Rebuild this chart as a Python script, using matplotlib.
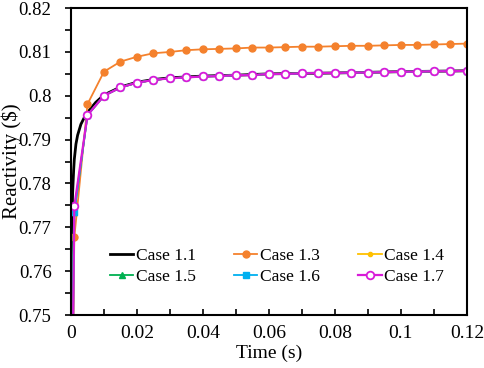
import matplotlib.pyplot as plt
import numpy as np
from matplotlib.ticker import MultipleLocator

plt.rcParams['font.family'] = ['Liberation Serif', 'DejaVu Serif']

# time grid for the marked cases (s)
t_mark = [0.0, 0.001, 0.005, 0.01, 0.015, 0.02, 0.025, 0.03, 0.035, 0.04, 0.045,
          0.05, 0.055, 0.06, 0.065, 0.07, 0.075, 0.08, 0.085, 0.09, 0.095,
          0.1, 0.105, 0.11, 0.115, 0.12]

case_13 = [0.70, 0.7677, 0.7981, 0.8055, 0.8078, 0.8089, 0.8097, 0.8100, 0.8104,
           0.8106, 0.8107, 0.8108, 0.8110, 0.8110, 0.8111, 0.8112, 0.8112, 0.8113,
           0.8114, 0.8114, 0.8115, 0.8116, 0.8116, 0.8117, 0.8118, 0.8119]
case_14 = [0.70, 0.7740, 0.7956, 0.8000, 0.8019, 0.8030, 0.8036, 0.8040, 0.8042,
           0.8044, 0.8045, 0.8047, 0.8047, 0.8050, 0.8050, 0.8051, 0.8052, 0.8052,
           0.8053, 0.8053, 0.8054, 0.8055, 0.8055, 0.8056, 0.8056, 0.8057]
case_15 = [0.75, 0.7735, 0.7956, 0.8000, 0.8019, 0.8030, 0.8036, 0.8040, 0.8042,
           0.8044, 0.8045, 0.8047, 0.8047, 0.8050, 0.8050, 0.8051, 0.8052, 0.8052,
           0.8053, 0.8053, 0.8054, 0.8055, 0.8055, 0.8056, 0.8056, 0.8057]
case_16 = [0.70, 0.7734, 0.7956, 0.8000, 0.8019, 0.8030, 0.8036, 0.8040, 0.8042,
           0.8044, 0.8045, 0.8047, 0.8047, 0.8050, 0.8050, 0.8051, 0.8052, 0.8052,
           0.8053, 0.8053, 0.8054, 0.8055, 0.8055, 0.8056, 0.8056, 0.8057]
case_17 = [0.70, 0.7748, 0.7956, 0.8000, 0.8019, 0.8030, 0.8036, 0.8040, 0.8042,
           0.8044, 0.8045, 0.8047, 0.8047, 0.8050, 0.8050, 0.8051, 0.8052, 0.8052,
           0.8053, 0.8053, 0.8054, 0.8055, 0.8055, 0.8056, 0.8056, 0.8057]

# Case 1.1 is a finer, unmarked curve
t_11 = [0.0, 0.0003, 0.0005, 0.0008, 0.001, 0.0015, 0.002, 0.003, 0.004, 0.005,
        0.0075, 0.01, 0.015, 0.02, 0.025, 0.03, 0.04, 0.05, 0.06, 0.08, 0.1, 0.12]
case_11 = [0.70, 0.7720, 0.7780, 0.7830, 0.7855, 0.7890, 0.7910, 0.7935, 0.7950,
           0.7962, 0.7985, 0.8002, 0.8020, 0.8031, 0.8037, 0.8041, 0.8045, 0.8047,
           0.8050, 0.8052, 0.8055, 0.8057]

fig = plt.figure(figsize=(4.84, 3.68), dpi=100)
ax = fig.add_axes([0.1467, 0.144, 0.818, 0.834])

h11, = ax.plot(t_11, case_11, color='black', lw=2, label='Case 1.1')
h13, = ax.plot(t_mark, case_13, color='#F4812D', lw=1.3, marker='o', ms=5, label='Case 1.3')
h14, = ax.plot(t_mark, case_14, color='#FFC000', lw=1.3, marker='o', ms=3, label='Case 1.4')
h15, = ax.plot(t_mark, case_15, color='#00B050', lw=1.3, marker='^', ms=5, label='Case 1.5')
h16, = ax.plot(t_mark, case_16, color='#00B0F0', lw=1.3, marker='s', ms=5, label='Case 1.6')
h17, = ax.plot(t_mark, case_17, color='#D81BD8', lw=1.6, marker='o', ms=5.5,
               markerfacecolor='white', markeredgewidth=1.3, label='Case 1.7')

ax.set_xlim(0, 0.12)
ax.set_ylim(0.75, 0.82)
ax.xaxis.set_major_locator(MultipleLocator(0.02))
ax.xaxis.set_minor_locator(MultipleLocator(0.01))
ax.yaxis.set_major_locator(MultipleLocator(0.01))
ax.yaxis.set_minor_locator(MultipleLocator(0.005))
ax.xaxis.set_major_formatter(plt.FuncFormatter(lambda v, p: f'{v:g}'))
ax.yaxis.set_major_formatter(plt.FuncFormatter(lambda v, p: f'{v:g}'))
ax.tick_params(axis='x', which='both', direction='in', length=4, width=1.2,
               labelsize=14, pad=7)
ax.tick_params(axis='y', which='both', direction='out', length=4, width=1.2,
               labelsize=13.5, pad=10)
for s in ax.spines.values():
    s.set_linewidth(1.5)

ax.set_xlabel('Time (s)', fontsize=14, labelpad=2)
ax.set_ylabel('Reactivity ($)', fontsize=15)
ax.yaxis.set_label_coords(-0.125, 0.5)

# row-major legend: 1.1 1.3 1.4 / 1.5 1.6 1.7
handles = [h11, h15, h13, h16, h14, h17]
ax.legend(handles=handles, labels=[h.get_label() for h in handles], ncol=3,
          loc='upper left', bbox_to_anchor=(0.098, 0.22), frameon=False,
          fontsize=12.5, handlelength=1.35, handletextpad=0.15, columnspacing=2.2,
          labelspacing=0.32, borderpad=0, borderaxespad=0)

fig.savefig('out.png', dpi=100)
